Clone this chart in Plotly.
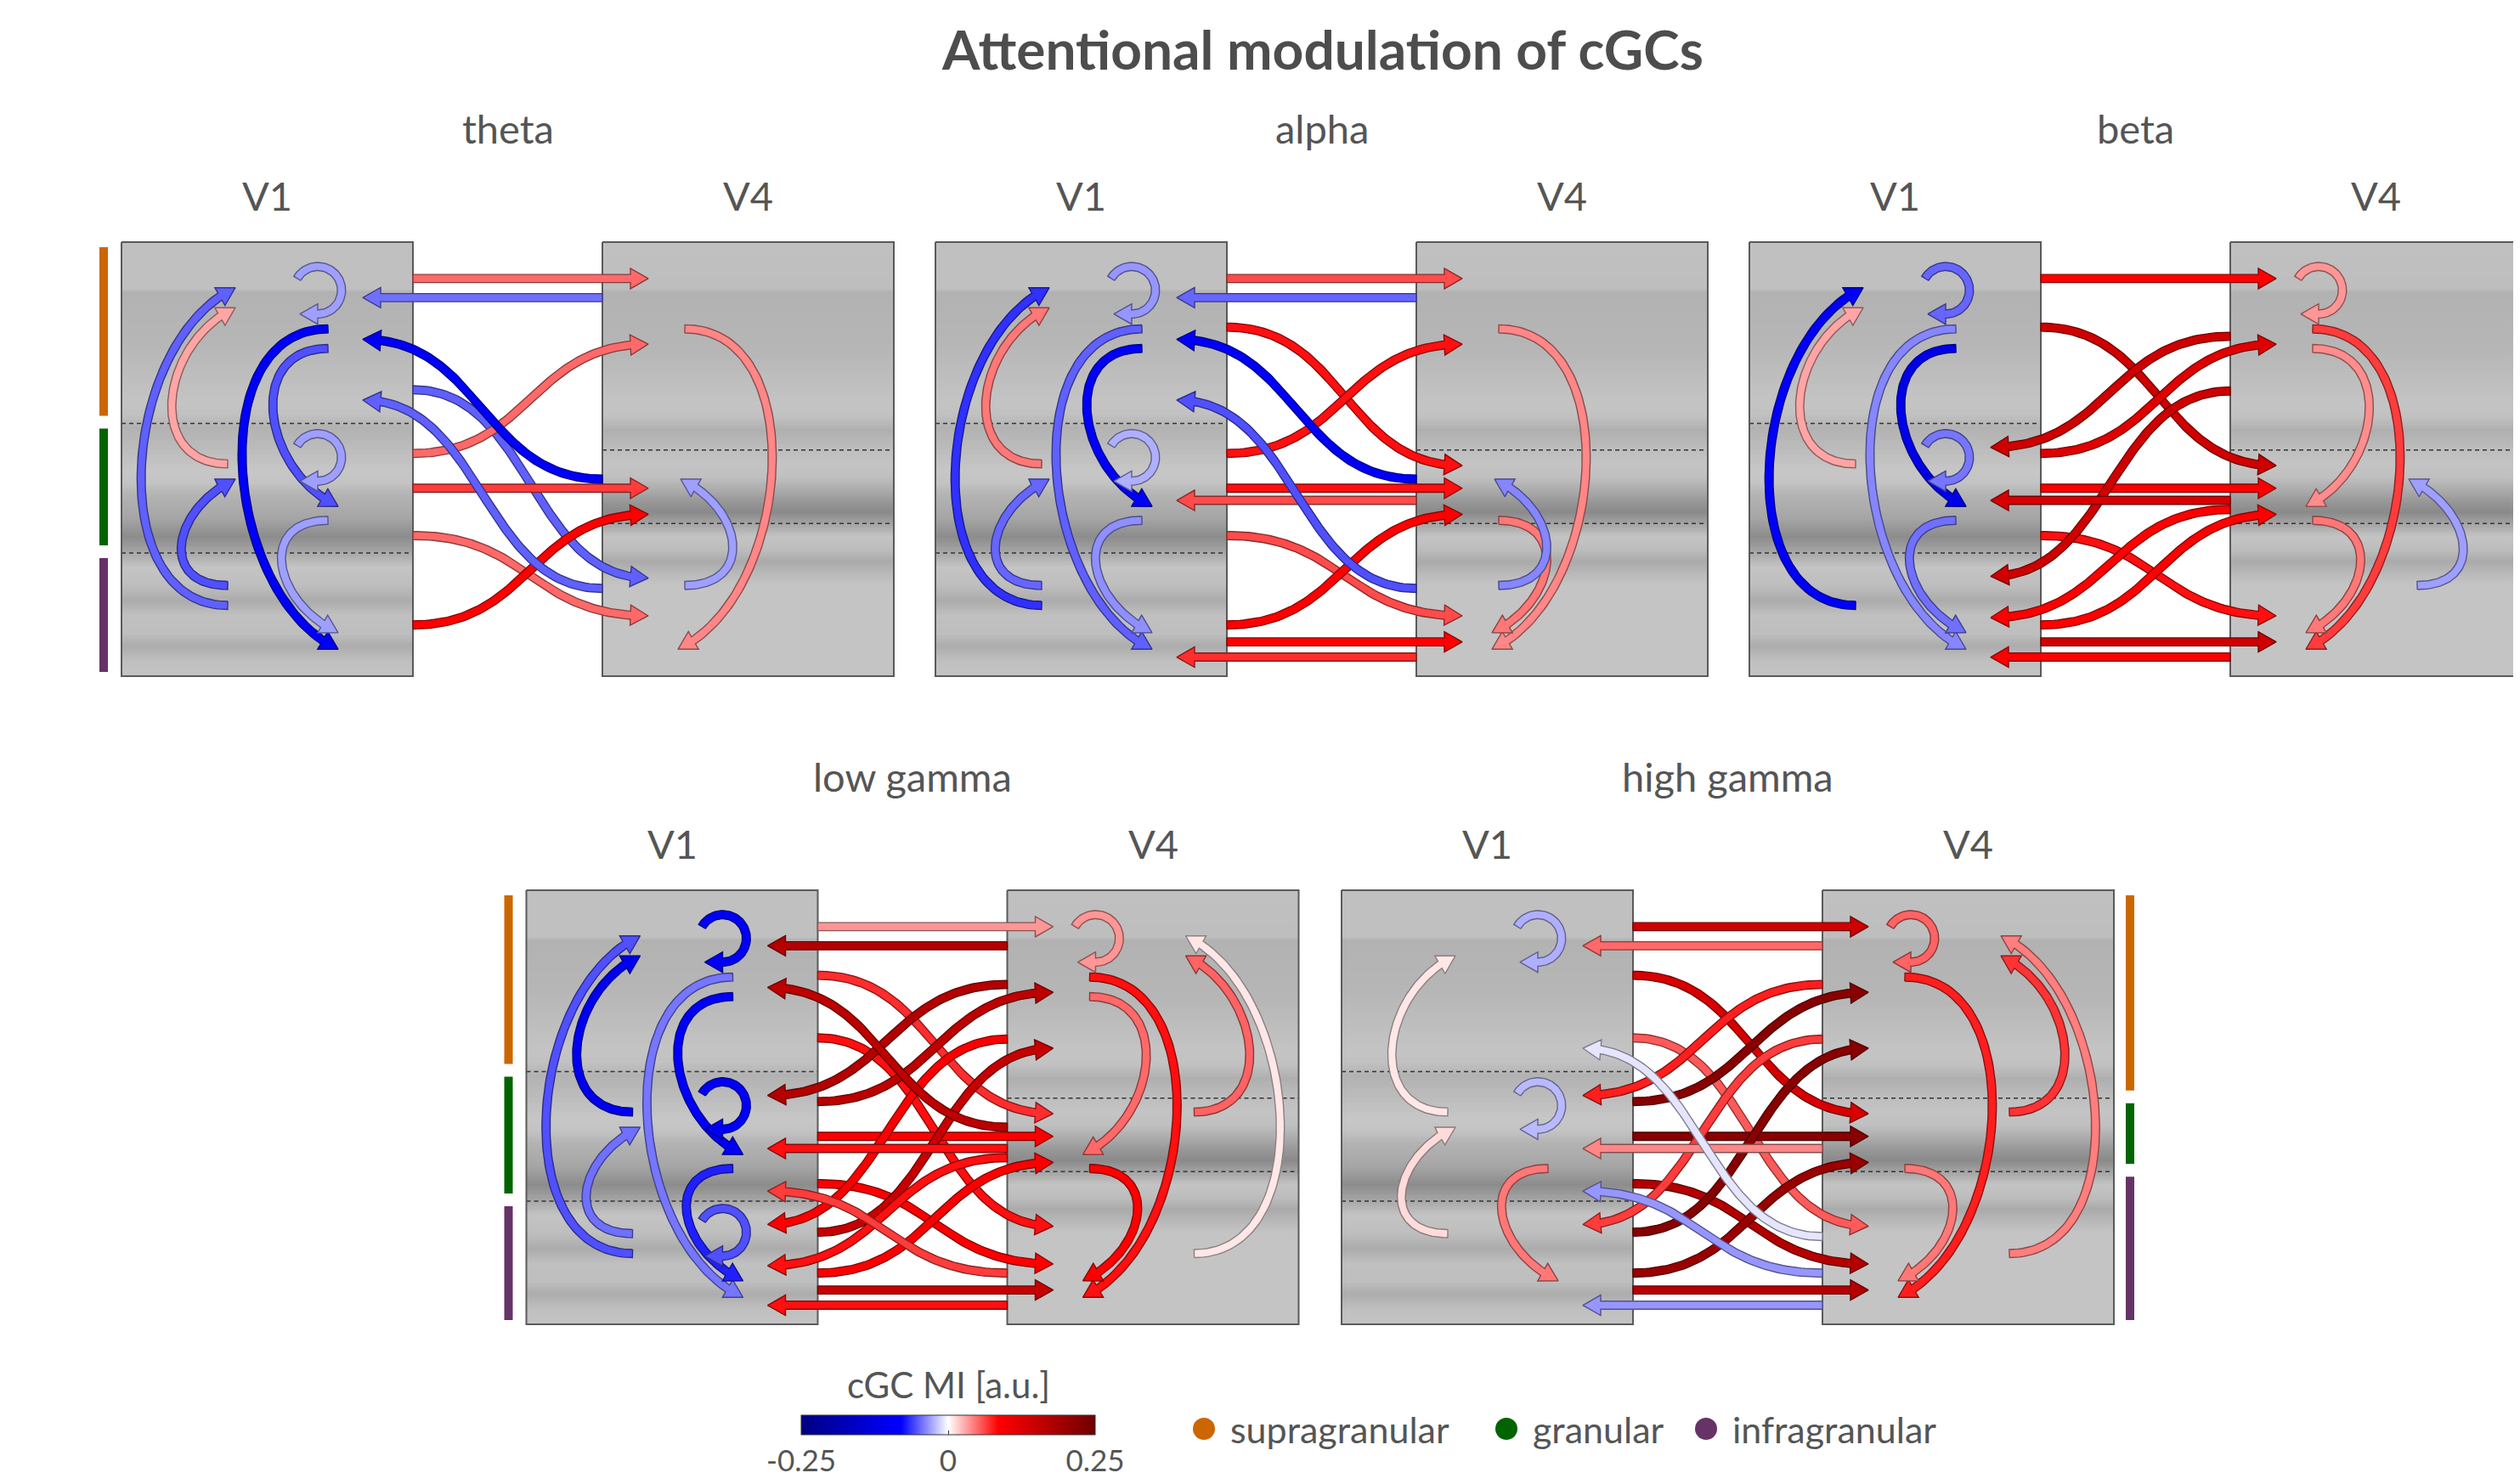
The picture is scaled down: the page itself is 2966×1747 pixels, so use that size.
import numpy as np
import plotly.graph_objects as go
from plotly.colors import sample_colorscale

# ------------------------------------------------------------------ data
TITLE = "Attentional modulation of cGCs"
BANDS = ["theta", "alpha", "beta", "low gamma", "high gamma"]
AREAS = ["V1", "V4"]
LAYERS = ["supragranular", "granular", "infragranular"]
LAYER_COLORS = ["#CC6600", "#006400", "#663366"]
CB_TITLE = "cGC MI [a.u.]"
CB_MIN, CB_MAX = -0.25, 0.25
CB_TICKS = [-0.25, 0.0, 0.25]
CB_TICKTEXT = ["-0.25", "0", "0.25"]

# modulation index, [source layer][target layer]  (supra, granular, infra); None = not shown
THETA_V1 = [[-0.030, -0.055, -0.090], [0.030, -0.030, -0.030], [-0.050, -0.055, None]]
THETA_V4 = [[None, None, 0.040], [None, None, None], [None, -0.030, None]]
THETA_FF = [[0.050, None, -0.050], [0.050, 0.065, 0.050], [None, 0.085, None]]
THETA_FB = [[-0.045, None, None], [-0.090, None, None], [-0.050, None, None]]

ALPHA_V1 = [[-0.033, -0.090, -0.050], [0.045, -0.025, -0.035], [-0.065, -0.048, None]]
ALPHA_V4 = [[None, None, 0.040], [None, None, 0.045], [None, -0.038, None]]
ALPHA_FF = [[0.060, 0.080, None], [0.080, 0.080, 0.060], [None, 0.085, 0.085]]
ALPHA_FB = [[-0.048, None, None], [-0.090, 0.060, None], [-0.055, None, 0.070]]

BETA_V1 = [[-0.048, -0.110, -0.038], [0.030, -0.043, -0.045], [-0.090, None, None]]
BETA_V4 = [[0.035, 0.038, 0.065], [None, None, 0.045], [None, -0.030, None]]
BETA_FF = [[0.085, 0.140, None], [0.120, 0.090, 0.080], [None, 0.085, 0.140]]
BETA_FB = [[None, 0.140, 0.140], [None, 0.130, 0.085], [None, None, 0.085]]

LOWG_V1 = [[-0.090, -0.090, -0.043], [-0.100, -0.090, -0.070], [-0.055, -0.045, -0.055]]
LOWG_V4 = [[0.035, 0.050, 0.080], [0.052, None, 0.085], [0.008, None, None]]
LOWG_FF = [[0.035, 0.070, 0.080], [0.160, 0.090, 0.090], [0.150, 0.090, 0.150]]
LOWG_FB = [[0.170, 0.170, 0.090], [0.160, 0.080, 0.080], [None, 0.065, 0.080]]

HIGHG_V1 = [[-0.025, None, None], [0.008, -0.022, 0.045], [None, 0.012, None]]
HIGHG_V4 = [[0.052, None, 0.075], [0.068, None, 0.045], [0.043, None, None]]
HIGHG_FF = [[0.140, 0.130, 0.055], [0.220, 0.220, 0.170], [0.220, 0.200, 0.170]]
HIGHG_FB = [[0.050, 0.075, 0.065], [None, 0.040, None], [-0.008, -0.033, -0.033]]

BAND_DATA = {
    "theta": (THETA_V1, THETA_V4, THETA_FF, THETA_FB),
    "alpha": (ALPHA_V1, ALPHA_V4, ALPHA_FF, ALPHA_FB),
    "beta": (BETA_V1, BETA_V4, BETA_FF, BETA_FB),
    "low gamma": (LOWG_V1, LOWG_V4, LOWG_FF, LOWG_FB),
    "high gamma": (HIGHG_V1, HIGHG_V4, HIGHG_FF, HIGHG_FB),
}

# ------------------------------------------------------------------ layout constants
W, H = 2966, 1747
PAGE_OFF = 8            # browser body margin: data coordinates == page pixels
BOX_W, BOX_H = 343, 511
V4_SHIFT = 566
PANEL_ORIGIN = {"theta": (143, 285), "alpha": (1101, 285), "beta": (2059, 285),
                "low gamma": (619.5, 1048), "high gamma": (1579, 1048)}
LAMINAR_BARS = {"theta": "left", "low gamma": "left", "high gamma": "right"}
BOUNDS = {"V1": [0.418, 0.716], "V4": [0.479, 0.648]}

GRAY_F = {"V1": [0.0, 0.108, 0.115, 0.23, 0.371, 0.40, 0.427, 0.469, 0.525, 0.553, 0.581,
                 0.637, 0.679, 0.707, 0.749, 0.79, 0.826, 0.86, 0.903, 0.93, 0.966, 1.0],
          "V4": [0.0, 0.108, 0.115, 0.25, 0.371, 0.40, 0.434, 0.48, 0.511, 0.54, 0.567, 0.60,
                 0.623, 0.65, 0.679, 0.71, 0.735, 0.77, 0.79, 1.0]}
GRAY_V = {"V1": [192, 192, 178, 182, 196, 192, 178, 186, 198, 196, 180, 165, 140, 160, 196,
                 190, 172, 192, 190, 172, 192, 196],
          "V4": [192, 190, 178, 182, 196, 194, 175, 190, 196, 192, 175, 150, 138, 165, 196,
                 188, 170, 188, 196, 196]}

# port positions as fraction of box height, [source layer][target layer]
FF_SRC_F = [[0.084, 0.196, 0.340], [0.487, 0.567, 0.676], [0.788, 0.882, 0.921]]
FF_TGT_F = [[0.084, 0.515, 0.774], [0.235, 0.567, 0.861], [0.364, 0.627, 0.921]]
FB_SRC_F = [[0.128, 0.217, 0.343], [0.546, 0.595, 0.616], [0.798, 0.882, 0.956]]
FB_TGT_F = [[0.128, 0.473, 0.770], [0.224, 0.595, 0.865], [0.364, 0.693, 0.956]]
ARC_SRC_F = [[None, 0.245, 0.200], [0.511, None, 0.641], [0.837, 0.791, None]]
ARC_TGT_F = [[None, 0.609, 0.938], [0.151, None, 0.900], [0.105, 0.546, None]]
LOOP_F = [0.111, 0.496, 0.788]
FF_TIP, FB_TIP = 54, 284

SHAFT_W, HEAD_LEN, HEAD_HW = 9.5, 21.0, 12.0
LOOP_R = 28

CSCALE = [[0.0, "rgb(0,0,130)"], [0.34, "rgb(0,0,255)"], [0.5, "rgb(255,255,255)"],
          [0.67, "rgb(255,0,0)"], [1.0, "rgb(110,0,0)"]]
TXT = "#555555"
FONT = "Lato"

fig = go.Figure()


def parse_rgb(s):
    vals = s[s.index("(") + 1:s.index(")")].split(",")
    return [float(v) for v in vals[:3]]


def val_colors(v):
    p = (v - CB_MIN) / (CB_MAX - CB_MIN)
    r, g, b = parse_rgb(sample_colorscale(CSCALE, [p])[0])
    return (f"rgb({r:.0f},{g:.0f},{b:.0f})",
            f"rgb({r * 0.55:.0f},{g * 0.55:.0f},{b * 0.55:.0f})")


def bezier(p0, p1, p2, p3, n=80):
    t = np.linspace(0, 1, n)[:, None]
    pts = ((1 - t) ** 3 * np.array(p0) + 3 * (1 - t) ** 2 * t * np.array(p1)
           + 3 * (1 - t) * t ** 2 * np.array(p2) + t ** 3 * np.array(p3))
    return pts[:, 0], pts[:, 1]


def add_arrow(px, py, v):
    px = np.asarray(px, float)
    py = np.asarray(py, float)
    seg = np.hypot(np.diff(px), np.diff(py))
    cum = np.concatenate([[0], np.cumsum(seg)])
    base_s = cum[-1] - HEAD_LEN
    idx = max(1, int(np.searchsorted(cum, base_s)))
    bx = np.interp(base_s, cum, px)
    by = np.interp(base_s, cum, py)
    sx = np.append(px[:idx], bx)
    sy = np.append(py[:idx], by)
    tx = np.gradient(sx)
    ty = np.gradient(sy)
    hx, hy = px[-1] - bx, py[-1] - by
    hn = np.hypot(hx, hy)
    hx, hy = hx / hn, hy / hn
    tx[-1], ty[-1] = hx, hy
    nn = np.hypot(tx, ty)
    tx, ty = tx / nn, ty / nn
    nx, ny = -ty, tx
    h = SHAFT_W / 2
    lx, ly = sx + nx * h, sy + ny * h
    rx, ry = sx - nx * h, sy - ny * h
    wl = (bx - hy * HEAD_HW, by + hx * HEAD_HW)
    wr = (bx + hy * HEAD_HW, by - hx * HEAD_HW)
    xs = list(lx) + [wl[0], px[-1], wr[0]] + list(rx[::-1]) + [lx[0]]
    ys = list(ly) + [wl[1], py[-1], wr[1]] + list(ry[::-1]) + [ly[0]]
    fill, edge = val_colors(v)
    fig.add_trace(go.Scatter(x=xs, y=ys, mode="lines", fill="toself", fillcolor=fill,
                             line=dict(color=edge, width=1.4), hoverinfo="skip",
                             showlegend=False))


def s_curve(x0, y0, x1, y1):
    k = 0.5 * (x1 - x0)
    return bezier((x0, y0), (x0 + k, y0), (x1 - k, y1), (x1, y1))


def arc_path(x0, y0, x1, y1, direction, alpha_deg=25):
    span = abs(y1 - y0)
    depth = 35 + 0.19 * span
    c = depth / 0.715
    sgn = np.sign(y1 - y0)
    a = np.radians(alpha_deg)
    return bezier((x0, y0), (x0 + direction * c, y0),
                  (x1 + direction * c * np.cos(a), y1 - sgn * c * np.sin(a)), (x1, y1))


def loop_path(cx, cy):
    phi = np.radians(np.linspace(-150, 90, 60))
    xs = list(cx + LOOP_R * np.cos(phi)) + [cx - HEAD_LEN]
    ys = list(cy + LOOP_R * np.sin(phi)) + [cy + LOOP_R]
    return xs, ys


def add_box(area, x0, y0):
    n = 300
    edges = np.linspace(0, 1, n + 1)
    centers = (edges[:-1] + edges[1:]) / 2
    g = np.interp(centers, GRAY_F[area], GRAY_V[area])
    fig.add_trace(go.Heatmap(z=g[:, None], x=[x0, x0 + BOX_W], y=y0 + edges * BOX_H,
                             colorscale=[[0, "rgb(0,0,0)"], [1, "rgb(255,255,255)"]],
                             zmin=0, zmax=255, showscale=False, hoverinfo="skip"))
    for f in BOUNDS[area]:
        fig.add_trace(go.Scatter(x=[x0, x0 + BOX_W], y=[y0 + f * BOX_H] * 2, mode="lines",
                                 line=dict(color="#333333", width=1.5, dash="5px,4px"),
                                 hoverinfo="skip", showlegend=False))
    fig.add_trace(go.Scatter(x=[x0, x0 + BOX_W, x0 + BOX_W, x0, x0],
                             y=[y0, y0, y0 + BOX_H, y0 + BOX_H, y0], mode="lines",
                             line=dict(color="#5a5a5a", width=2), hoverinfo="skip",
                             showlegend=False))


def add_bars(area, xc, y0):
    b = [0.0] + BOUNDS[area] + [1.0]
    for i in range(3):
        ya = y0 + b[i] * BOX_H + 6
        yb = y0 + b[i + 1] * BOX_H - (9 if i < 2 else 5)
        fig.add_trace(go.Scatter(x=[xc, xc], y=[ya, yb], mode="lines",
                                 line=dict(color=LAYER_COLORS[i], width=10),
                                 hoverinfo="skip", showlegend=False))


def draw_intra(M, area, bx, by):
    n_arcs = sum(1 for s in range(3) for t in range(3) if s != t and M[s][t] is not None)
    for s in range(3):
        for t in range(3):
            v = M[s][t]
            if v is None or s == t:
                continue
            down = t > s
            if area == "V1":
                xs, xt, d = (243, 255, -1) if down else (125, 134, -1)
            else:
                if down:
                    xs, xt = 97, 89
                elif n_arcs <= 3:
                    xs, xt = 97, 92
                else:
                    xs, xt = 220, 210
                d = 1
            px, py = arc_path(bx + xs, by + ARC_SRC_F[s][t] * BOX_H,
                              bx + xt, by + ARC_TGT_F[s][t] * BOX_H, d)
            add_arrow(px, py, v)
    loop_x = 231 if area == "V1" else 104
    for l in range(3):
        if M[l][l] is not None:
            px, py = loop_path(bx + loop_x, by + LOOP_F[l] * BOX_H)
            add_arrow(px, py, M[l][l])


annotations = []
for band in BANDS:
    ox, oy = PANEL_ORIGIN[band]
    v1x, v4x = ox, ox + V4_SHIFT
    add_box("V1", v1x, oy)
    add_box("V4", v4x, oy)
    side = LAMINAR_BARS.get(band)
    if side == "left":
        add_bars("V1", v1x - 21, oy)
    elif side == "right":
        add_bars("V4", v4x + BOX_W + 19, oy)
    M1, M4, FF, FB = BAND_DATA[band]
    draw_intra(M1, "V1", v1x, oy)
    draw_intra(M4, "V4", v4x, oy)
    for s in range(3):
        for t in range(3):
            v = FF[s][t]
            if v is not None:
                px, py = s_curve(v1x + BOX_W, oy + FF_SRC_F[s][t] * BOX_H,
                                 v4x + FF_TIP, oy + FF_TGT_F[s][t] * BOX_H)
                add_arrow(px, py, v)
    for s in range(3):
        for t in range(3):
            v = FB[s][t]
            if v is not None:
                px, py = s_curve(v4x, oy + FB_SRC_F[s][t] * BOX_H,
                                 v1x + FB_TIP, oy + FB_TGT_F[s][t] * BOX_H)
                add_arrow(px, py, v)
    annotations.append(dict(x=(v1x + v4x + BOX_W) / 2, y=oy - 134, text=band,
                            font=dict(family=FONT, size=47, color=TXT)))
    for area, ax in zip(AREAS, [v1x, v4x]):
        annotations.append(dict(x=ax + BOX_W / 2, y=oy - 55, text=area,
                                font=dict(family=FONT, size=47, color=TXT)))

annotations.append(dict(x=1556, y=57, text=TITLE,
                        font=dict(family=FONT, size=64, color="#4D4D4D", weight="bold")))

# legend (laminar compartments)
LEG_X = [1417, 1773, 2008]
LEG_Y = 1682
for name, col, lx in zip(LAYERS, LAYER_COLORS, LEG_X):
    fig.add_trace(go.Scatter(x=[lx], y=[LEG_Y], mode="markers",
                             marker=dict(size=26, color=col), hoverinfo="skip",
                             showlegend=False))
    annotations.append(dict(x=lx + 29, y=LEG_Y, text=name, xanchor="left",
                            font=dict(family=FONT, size=43, color=TXT)))

# colorbar
CB_CX = 1116
annotations.append(dict(x=CB_CX, y=1630, text=CB_TITLE,
                        font=dict(family=FONT, size=42, color=TXT)))
fig.add_trace(go.Scatter(
    x=[-100], y=[-100], mode="markers", hoverinfo="skip", showlegend=False,
    marker=dict(size=1, color=[0], colorscale=CSCALE, cmin=CB_MIN, cmax=CB_MAX,
                showscale=True,
                colorbar=dict(orientation="h", x=(CB_CX - PAGE_OFF) / W, xanchor="center",
                              y=0.0057, yanchor="bottom", len=346, lenmode="pixels",
                              thickness=23, thicknessmode="pixels", outlinewidth=1,
                              outlinecolor="#333333", tickvals=CB_TICKS, ticktext=CB_TICKTEXT,
                              ticks="inside", ticklen=5, tickcolor="#333333",
                              tickfont=dict(family=FONT, size=35, color=TXT),
                              xpad=0, ypad=0))))

for a in annotations:
    a.setdefault("xref", "x")
    a.setdefault("yref", "y")
    a.setdefault("showarrow", False)
    a.setdefault("xanchor", "center")
    a.setdefault("yanchor", "middle")

fig.update_layout(
    width=W, height=H, margin=dict(l=0, r=0, t=0, b=0),
    paper_bgcolor="white", plot_bgcolor="white",
    xaxis=dict(range=[PAGE_OFF, W + PAGE_OFF], visible=False, fixedrange=True),
    yaxis=dict(range=[H + PAGE_OFF, PAGE_OFF], visible=False, fixedrange=True),
    annotations=annotations, showlegend=False,
)
fig.write_html("out.html")
